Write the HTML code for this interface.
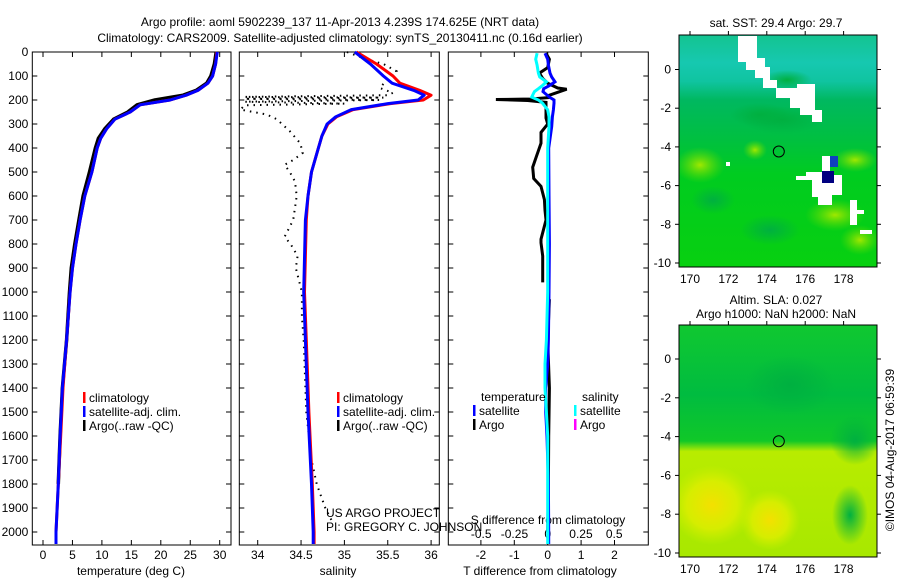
<!DOCTYPE html>
<html><head><meta charset="utf-8"><style>
html,body{margin:0;padding:0;background:#fff}
svg text{font-family:"Liberation Sans",sans-serif;font-size:12px;fill:#000}
</style></head><body>
<svg id="fig" width="900" height="580" viewBox="0 0 900 580" xmlns="http://www.w3.org/2000/svg">
<defs>
<linearGradient id="sstg" x1="0" y1="0" x2="0" y2="1">
<stop offset="0" stop-color="#14c490"/><stop offset="0.12" stop-color="#16c8b0"/><stop offset="0.2" stop-color="#10c4a0"/>
<stop offset="0.28" stop-color="#00b860"/><stop offset="0.45" stop-color="#00c040"/><stop offset="0.6" stop-color="#00cc20"/><stop offset="1" stop-color="#08d010"/>
</linearGradient>
<linearGradient id="slag" x1="0" y1="0" x2="0" y2="1">
<stop offset="0" stop-color="#10c830"/><stop offset="0.3" stop-color="#00bc40"/><stop offset="0.5" stop-color="#10c828"/><stop offset="0.545" stop-color="#b8ec00"/><stop offset="1" stop-color="#a8e800"/>
</linearGradient>
<radialGradient id="yel"><stop offset="0" stop-color="#f4e000"/><stop offset="0.6" stop-color="#e0ee00" stop-opacity="0.8"/><stop offset="1" stop-color="#d0f000" stop-opacity="0"/></radialGradient>
<radialGradient id="dg"><stop offset="0" stop-color="#00b040"/><stop offset="1" stop-color="#00b040" stop-opacity="0"/></radialGradient>
<radialGradient id="lg"><stop offset="0" stop-color="#a0e800"/><stop offset="1" stop-color="#60dc00" stop-opacity="0"/></radialGradient>
<clipPath id="c1"><rect x="679" y="35" width="198" height="232"/></clipPath>
<clipPath id="c2"><rect x="679" y="325" width="198" height="232"/></clipPath>
</defs>
<g id="root"></g>
</svg>
<script>
// ---- data ----
const tempDepth=[0,50,100,130,160,180,200,220,250,280,320,360,400,500,600,700,800,900,1000,1200,1400,1600,1800,2000,2050];
const tempClim=[29.5,29.3,28.8,28.0,26.3,24.3,21.6,16.5,14.8,12.2,10.8,9.8,9.2,8.3,7.1,6.3,5.6,5.0,4.6,4.0,3.4,3.0,2.6,2.2,2.2];
const tempSat=[29.6,29.3,28.8,28.0,26.3,24.3,21.6,16.5,14.8,12.2,10.8,9.8,9.2,8.3,7.1,6.3,5.6,5.0,4.6,4.0,3.3,2.9,2.6,2.2,2.2];
const tempArgo=[29.4,29.1,28.5,27.8,26.0,23.8,19.0,16.0,14.4,12.0,10.5,9.4,8.9,7.9,6.8,6.1,5.4,4.8,4.5,4.0,3.3,2.9,2.6,null,null];
const salDepth=[0,50,100,130,160,180,200,215,240,270,300,350,400,500,600,700,1000,1200,1500,1800,2000,2050];
const salClim=[35.14,35.37,35.56,35.64,35.87,36.0,35.91,35.53,35.10,34.91,34.81,34.74,34.70,34.62,34.58,34.56,34.54,34.56,34.59,34.63,34.65,34.65];
const salSat=[35.12,35.30,35.45,35.55,35.80,35.92,35.85,35.50,35.08,34.90,34.80,34.74,34.70,34.62,34.58,34.55,34.53,34.55,34.58,34.62,34.64,34.64];
const argoSalDepth=[0,30,50,80,100,120,150,170,180,187,190,195,200,207,215,222,240,260,280,330,380,420,450,470,500,540,600,700,770,800,850,900,1000,1100,1200,1500,1700,1800,1900,1950];
const argoSal=[35.03,35.25,35.45,35.60,35.53,35.48,35.41,35.56,35.50,33.85,35.45,33.85,35.40,33.85,35.0,33.85,33.80,34.10,34.22,34.37,34.49,34.52,34.41,34.31,34.37,34.43,34.45,34.41,34.31,34.38,34.46,34.44,34.51,34.51,34.53,34.56,34.62,34.68,34.78,34.85];
const diffDepth=[5,30,55,88,104,124,140,153,165,188,200,213,241,270,311,400,600,800,1000,1200,1300,1400,1500,1600,1800,2000,2050];
const diffTSat=[-0.08,0.0,0.02,0.07,0.12,0.22,0.05,-0.12,-0.14,0.05,0.19,0.19,0.17,0.14,0.12,0.03,0.04,0.05,0.04,0.02,0.0,-0.06,-0.06,-0.02,0.02,0.03,0.03];
const diffSSat=[-0.08,-0.09,-0.08,-0.07,-0.06,-0.01,-0.04,-0.07,-0.1,-0.12,-0.07,-0.04,0.0,0.01,0.01,0.0,0.0,0.0,0.0,-0.01,-0.02,-0.02,-0.01,0.0,0.0,0.0,0.0];
const argoTDepth=[5,30,65,88,110,130,150,155,180,190,196,198,202,210,240,275,300,335,380,440,480,527,560,615,660,700,780,795,850,960,null,1030,1200,1400,1600,1800,2000];
const argoTDiff=[-0.05,0.05,0.0,-0.25,-0.15,0.0,0.3,0.57,0.05,0.02,-0.5,-1.55,-0.6,-0.05,-0.05,-0.05,0.0,-0.2,-0.2,-0.35,-0.45,-0.42,-0.2,-0.1,-0.08,-0.05,-0.2,-0.2,-0.15,-0.15,null,0.05,0.0,0.05,0.03,0.02,0.0];
const tempTicks=[0,5,10,15,20,25,30];
const salTicks=[34,34.5,35,35.5,36];
const tdTicks=[-2,-1,0,1,2];
const sdTicks=[-0.5,-0.25,0,0.25,0.5];
const depthTicks=[0,100,200,300,400,500,600,700,800,900,1000,1100,1200,1300,1400,1500,1600,1700,1800,1900,2000];
const lonTicks=[170,172,174,176,178];
const latTicks=[0,-2,-4,-6,-8,-10];
const argoLon=174.625, argoLat=-4.239;

// ---- scales ----
const yD=d=>52+d*0.24;
const xT=t=>43+t*5.89;
const xS=s=>257.7+(s-34)*86.7;
const xTD=t=>547.7+t*33.4;
const xSD=s=>547.7+s*133;
const mapX=lon=>690+(lon-170)*19.2;
const lat1=l=>69.5-l*19.35;
const lat2=l=>359-l*19.4;

const NS='http://www.w3.org/2000/svg';
const root=document.getElementById('root');
function mk(tag,attrs,parent){const e=document.createElementNS(NS,tag);for(const k in attrs)e.setAttribute(k,attrs[k]);(parent||root).appendChild(e);return e;}
function txt(x,y,s,anchor,parent){const e=mk('text',{x:x,y:y,'text-anchor':anchor||'start'},parent);e.textContent=s;return e;}
function pathOf(xs,ds,fx){let d='',pen=false;for(let i=0;i<xs.length;i++){if(xs[i]==null||ds[i]==null){pen=false;continue;}d+=(pen?'L':'M')+fx(xs[i]).toFixed(1)+' '+yD(ds[i]).toFixed(1);pen=true;}return d;}

// titles
let t1=txt(340,26,'Argo profile: aoml 5902239_137 11-Apr-2013 4.239S 174.625E (NRT data)','middle');t1.setAttribute('font-size','13');


let t2=txt(340,42,'Climatology: CARS2009. Satellite-adjusted climatology: synTS_20130411.nc (0.16d earlier)','middle');t2.setAttribute('font-size','13');



function panel(name,x0,x1,y0,y1,xticks,fx,ylabels){
  const g=mk('g',{});
  
  
  mk('rect',{x:x0,y:y0,width:x1-x0,height:y1-y0,fill:'none',stroke:'#000','stroke-width':1},g);
  xticks.forEach(v=>{const x=fx(v);mk('line',{x1:x,x2:x,y1:y1,y2:y1-5,stroke:'#000'},g);mk('line',{x1:x,x2:x,y1:y0,y2:y0+5,stroke:'#000'},g);});
  depthTicks.forEach(d=>{const y=yD(d);mk('line',{x1:x0,x2:x0+5,y1:y,y2:y,stroke:'#000'},g);mk('line',{x1:x1,x2:x1-5,y1:y,y2:y,stroke:'#000'},g);
    if(ylabels){txt(x0-4,y+4,String(d),'end',g);}});
  return g;
}
// panel 1
const p1=panel('temperature-panel',32.3,231,52,545,tempTicks,xT,true);
tempTicks.forEach(v=>txt(xT(v),559,String(v),'middle',p1));
txt(131,575,'temperature (deg C)','middle',p1);
let e=mk('path',{d:pathOf(tempArgo,tempDepth,xT),fill:'none',stroke:'#000','stroke-width':3.5,'stroke-linejoin':'round'},p1);

e=mk('path',{d:pathOf(tempClim,tempDepth,xT),fill:'none',stroke:'#f00','stroke-width':3,'stroke-linejoin':'round'},p1);

e=mk('path',{d:pathOf(tempSat,tempDepth,xT),fill:'none',stroke:'#00f','stroke-width':3,'stroke-linejoin':'round'},p1);

function legend(g,x,y,items){items.forEach((it,i)=>{mk('rect',{x:x,y:y+i*14-10,width:2.5,height:11,fill:it[0]},g);txt(x+6,y+i*14,it[1],'start',g);});}
legend(p1,83,402,[['#f00','climatology'],['#00f','satellite-adj. clim.'],['#000','Argo(..raw -QC)']]);

// panel 2
const p2=panel('salinity-panel',239.3,439.3,52,545,salTicks,xS,false);
salTicks.forEach(v=>txt(xS(v),559,String(v),'middle',p2));
txt(338,575,'salinity','middle',p2);
e=mk('path',{d:pathOf(argoSal,argoSalDepth,xS),fill:'none',stroke:'#000','stroke-width':2,'stroke-dasharray':'1.5 5'},p2);

e=mk('path',{d:pathOf(salClim,salDepth,xS),fill:'none',stroke:'#f00','stroke-width':3,'stroke-linejoin':'round'},p2);

e=mk('path',{d:pathOf(salSat,salDepth,xS),fill:'none',stroke:'#00f','stroke-width':3,'stroke-linejoin':'round'},p2);

legend(p2,337,402,[['#f00','climatology'],['#00f','satellite-adj. clim.'],['#000','Argo(..raw -QC)']]);
txt(326,517,'US ARGO PROJECT','start',p2);
txt(326,531,'PI: GREGORY C. JOHNSON','start',p2);

// panel 3
const p3=panel('difference-panel',448.3,648.3,52,545,tdTicks,xTD,false);
tdTicks.forEach(v=>txt(xTD(v),559,String(v),'middle',p3));
sdTicks.forEach(v=>txt(xSD(v),538,String(v),'middle',p3));
txt(548,524,'S difference from climatology','middle',p3);
txt(540,575,'T difference from climatology','middle',p3);
e=mk('path',{d:pathOf(argoTDiff,argoTDepth,xTD),fill:'none',stroke:'#000','stroke-width':3},p3);

e=mk('path',{d:pathOf(diffTSat,diffDepth,xTD),fill:'none',stroke:'#00f','stroke-width':3},p3);

e=mk('path',{d:pathOf(diffSSat,diffDepth,xSD),fill:'none',stroke:'#0ff','stroke-width':3},p3);

txt(481,401,'temperature','start',p3);
legend(p3,473,415,[['#00f','satellite'],['#000','Argo']]);
txt(582,401,'salinity','start',p3);
legend(p3,574,415,[['#0ff','satellite'],['#f0f','Argo']]);

// maps
function mapAxes(g,y0,y1,latf){
  mk('rect',{x:679,y:y0,width:198,height:y1-y0,fill:'none',stroke:'#000'},g);
  lonTicks.forEach(l=>{const x=mapX(l);mk('line',{x1:x,x2:x,y1:y0,y2:y0-4,stroke:'#000'},g);txt(x,y1+16,String(l),'middle',g);});
  latTicks.forEach(l=>{const y=latf(l);mk('line',{x1:679,x2:675,y1:y,y2:y,stroke:'#000'},g);mk('line',{x1:877,x2:881,y1:y,y2:y,stroke:'#000'},g);txt(671,y+4,String(l),'end',g);});
}
const m1=mk('g',{});


const m1c=mk('g',{'clip-path':'url(#c1)'},m1);
mk('rect',{x:679,y:35,width:198,height:232,fill:'url(#sstg)'},m1c);
[[782,120,40,14,'dg'],[760,115,30,12,'dg'],[787,80,25,10,'dg'],[700,165,25,18,'lg'],[855,160,22,12,'lg'],[835,215,30,16,'lg'],[755,150,12,10,'lg'],[770,230,30,15,'dg'],[713,200,22,14,'dg'],[860,240,20,15,'lg']].forEach(a=>mk('ellipse',{cx:a[0],cy:a[1],rx:a[2],ry:a[3],fill:'url(#'+a[4]+')'},m1c));
['M738,36L757,36L757,58L765,58L765,67L770,67L770,80L777,80L777,88L797,88L797,84L815,84L815,110L822,110L822,122L812,122L812,115L800,115L800,108L790,108L790,98L776,98L776,88L763,88L763,78L755,78L755,70L746,70L746,62L738,62Z',
 'M822,156L830,156L830,175L842,175L842,195L832,195L832,205L818,205L818,197L812,197L812,180L796,180L796,176L806,176L806,172L822,172Z',
 'M850,200L857,200L857,210L864,210L864,214L857,214L857,225L850,225Z','M860,230L872,230L872,234L860,234Z','M726,162L730,162L730,166L726,166Z'].forEach(p=>mk('path',{d:p,fill:'#fff'},m1c));
mk('rect',{x:830,y:156,width:8,height:11,fill:'#1040c0'},m1c);
mk('rect',{x:822,y:171,width:12,height:12,fill:'#000080'},m1c);
e=mk('circle',{cx:mapX(argoLon),cy:lat1(argoLat),r:5.5,fill:'none',stroke:'#000'},m1c);

mapAxes(m1,35,267,lat1);
txt(776,27,'sat. SST: 29.4  Argo: 29.7','middle',m1);

const m2=mk('g',{});


const m2c=mk('g',{'clip-path':'url(#c2)'},m2);
mk('rect',{x:679,y:325,width:198,height:232,fill:'url(#slag)'},m2c);
[[790,385,45,30,'dg'],[855,440,25,25,'dg'],[850,515,18,30,'dg']].forEach(a=>mk('ellipse',{cx:a[0],cy:a[1],rx:a[2],ry:a[3],fill:'url(#'+a[4]+')'},m2c));
[[712,505,42,40],[770,520,30,30]].forEach(a=>mk('ellipse',{cx:a[0],cy:a[1],rx:a[2],ry:a[3],fill:'url(#yel)'},m2c));
e=mk('circle',{cx:mapX(argoLon),cy:lat2(argoLat),r:5.5,fill:'none',stroke:'#000'},m2c);

mapAxes(m2,325,557,lat2);
txt(776,304,'Altim. SLA: 0.027','middle',m2);
txt(776,318,'Argo h1000: NaN h2000: NaN','middle',m2);
const cr=txt(0,0,'©IMOS 04-Aug-2017 06:59:39','middle');
cr.setAttribute('transform','translate(894,450) rotate(-90)');


</script>
</body></html>
